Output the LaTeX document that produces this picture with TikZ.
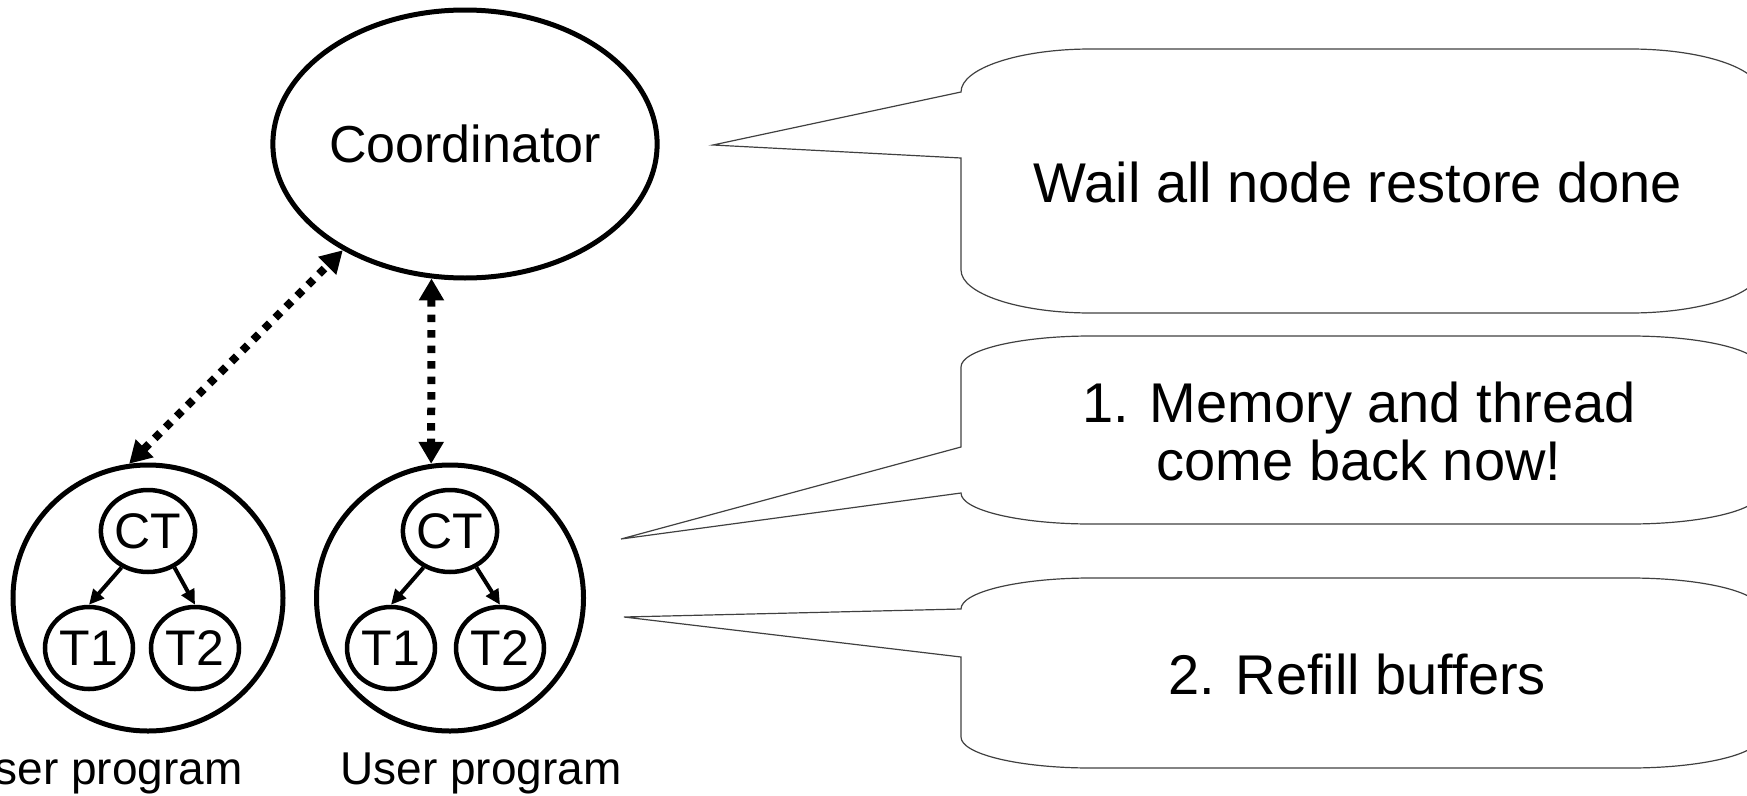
\documentclass[tikz,border=0pt]{standalone}
\usepackage{fontspec}
\setmainfont{Liberation Sans}
\usetikzlibrary{shapes.geometric,arrows.meta}
\begin{document}
\begin{tikzpicture}[x=1pt,y=-1pt,
  bigell/.style={ellipse,draw,line width=5pt,inner sep=0pt},
  thread/.style={ellipse,draw,line width=4.5pt,inner sep=0pt,minimum width=88pt,minimum height=82pt,font=\fontsize{50}{60}\selectfont},
  sync/.style={line width=8pt,dash pattern=on 7.5pt off 8pt,{Triangle[length=22pt,width=24pt]}-{Triangle[length=22pt,width=24pt]}},
  spawn/.style={line width=4pt,-{Triangle[length=15pt,width=14pt]}},
  callout/.style={draw=black!75,line width=1.2pt},
  calltext/.style={font=\fontsize{56}{58}\selectfont,align=center},
  lbl/.style={font=\fontsize{46}{50}\selectfont,anchor=base},
]
\useasboundingbox (0,0) rectangle (1747,795);
\clip (0,0) rectangle (1747,795);

% coordinator and the two user programs
\node[bigell,minimum width=376pt,minimum height=268pt,font=\fontsize{52}{60}\selectfont] (coord) at (465,144) {Coordinator};
\node[bigell,minimum width=270pt,minimum height=266pt] (up1) at (148,598) {};
\node[bigell,minimum width=267pt,minimum height=266pt] (up2) at (450,598) {};

% threads inside each user program
\node[thread] (ct1) at (148,531) {CT};
\node[thread] (t11) at (89,648) {T1};
\node[thread] (t12) at (195,648) {T2};
\node[thread] (ct2) at (450,531) {CT};
\node[thread] (t21) at (391,648) {T1};
\node[thread] (t22) at (500,648) {T2};

\draw[spawn] (ct1.234) -- (t11.north);
\draw[spawn] (ct1.306) -- (t12.north);
\draw[spawn] (ct2.234) -- (t21.north);
\draw[spawn] (ct2.306) -- (t22.north);

% coordinator <-> user program links
\draw[sync] (up1.98) -- (coord.221);
\draw[sync] (coord.256) -- (up2.98);

\node[lbl] (lab1) at (102,784) {User program};
\node[lbl] (lab2) at (481,784) {User program};

% speech callouts
\draw[callout] (961,92) arc[start angle=180,end angle=90,x radius=130pt,y radius=43pt]
  -- (1630,49) arc[start angle=90,end angle=0,x radius=130pt,y radius=43pt]
  -- (1760,270) arc[start angle=0,end angle=-90,x radius=130pt,y radius=43pt]
  -- (1091,313) arc[start angle=-90,end angle=-180,x radius=130pt,y radius=43pt]
  -- (961,158) -- (713,145) -- cycle;

\draw[callout] (961,447) -- (961,367) arc[start angle=180,end angle=90,x radius=130pt,y radius=31pt]
  -- (1630,336) arc[start angle=90,end angle=0,x radius=130pt,y radius=31pt]
  -- (1760,493) arc[start angle=0,end angle=-90,x radius=130pt,y radius=31pt]
  -- (1091,524) arc[start angle=-90,end angle=-180,x radius=130pt,y radius=31pt]
  -- (621,539) -- cycle;

\draw[callout] (961,609) arc[start angle=180,end angle=90,x radius=130pt,y radius=31pt]
  -- (1630,578) arc[start angle=90,end angle=0,x radius=130pt,y radius=31pt]
  -- (1760,737) arc[start angle=0,end angle=-90,x radius=130pt,y radius=31pt]
  -- (1091,768) arc[start angle=-90,end angle=-180,x radius=130pt,y radius=31pt]
  -- (961,657) -- (624,617) -- cycle;

\node[calltext] (msg1) at (1358,182) {Wail all node restore done};
\node[calltext] (msg2) at (1359,431) {1. Memory and thread\\come back now!};
\node[calltext] (msg3) at (1357,674) {2. Refill buffers};
\end{tikzpicture}
\end{document}
